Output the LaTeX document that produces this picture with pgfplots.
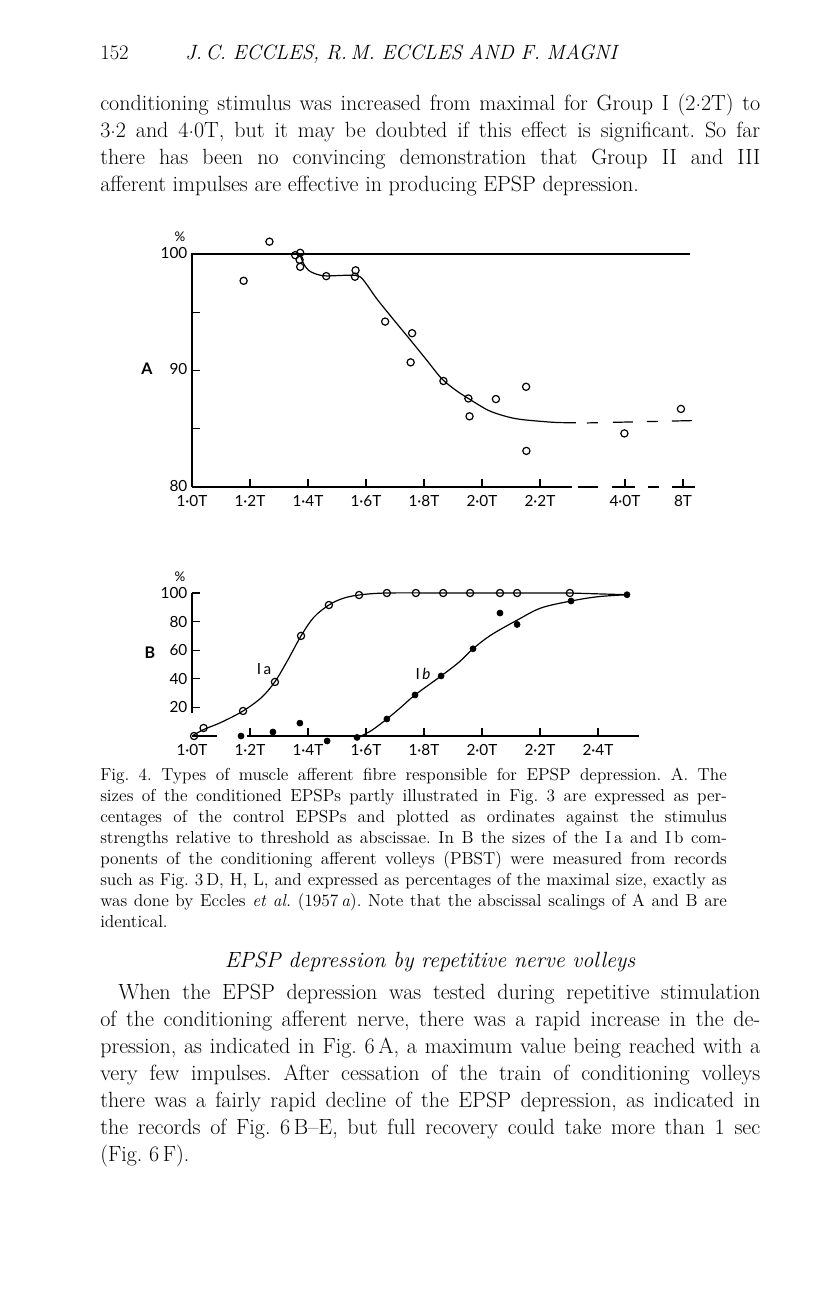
\documentclass[border=0pt]{standalone}
\usepackage{fontspec}
\newfontfamily\lab{Lato}
\usepackage{pgfplots}
\pgfplotsset{compat=1.18}
\frenchspacing

% one text line, spaces stretched to the given width
\newcommand{\jline}[4]{\node[anchor=base west,inner sep=0pt] at (#1,#2) {\makebox[#3][s]{#4}};}
\newcommand{\pline}[3]{\node[anchor=base west,inner sep=0pt] at (#1,#2) {#3};}
\newcommand{\cdt}{\raisebox{0.33ex}{.}}

\pgfplotsset{
  page axis/.style={
    scale only axis, width=380.625pt, xmin=1, xmax=2.75,
    clip=false, axis lines*=left, axis line style={draw=none},
    tick align=inside, major tick length=6pt,
    every tick/.style={black,line width=1pt},
    tick label style={font=\lab\fontsize{11.5}{12}\selectfont},
    xticklabel style={yshift=-2.5pt},
  },
  frame/.style={black,line width=1.2pt},
  curve/.style={black,line width=0.9pt},
  open/.style={only marks,mark=o,mark size=2.7pt,mark options={fill=white,line width=0.9pt}},
  full/.style={only marks,mark=*,mark size=2.3pt,mark options={fill=black}},
}

\begin{document}
\begin{tikzpicture}
\path[fill=white,use as bounding box] (0,0) rectangle (612pt,-972pt);

\begin{scope}[x=0.75pt,y=-0.75pt]
% running head
\node[anchor=base west,inner sep=0pt,font=\fontsize{15.5}{17}\selectfont] at (100,59) {152};
\node[anchor=base west,inner sep=0pt,font=\fontsize{15.5}{17}\selectfont\itshape] at (185,59)
  {\makebox[324pt][s]{J.\,C. ECCLES, R.\,M. ECCLES AND F. MAGNI}};

% text above the figure
\begin{scope}[font=\fontsize{16.5}{20}\selectfont]
\jline{100}{110}{495pt}{conditioning stimulus was increased from maximal for Group I (2\cdt2T) to}
\jline{100}{137}{495pt}{3\cdt2 and 4\cdt0T, but it may be doubted if this effect is significant. So far}
\jline{100}{164}{495pt}{there has been no convincing demonstration that Group II and III}
\pline{100}{191}{afferent impulses are effective in producing EPSP depression.}
\end{scope}

% panel letters and units
\node[font=\lab\bfseries\fontsize{12}{12}\selectfont] at (147,369) {A};
\node[font=\lab\bfseries\fontsize{12}{12}\selectfont] at (150,653) {B};
\node[font=\lab\fontsize{10}{10}\selectfont,inner sep=0pt] at (180,237) {\%};
\node[font=\lab\fontsize{10}{10}\selectfont,inner sep=0pt] at (180,577) {\%};
\node[font=\lab\fontsize{11.5}{12}\selectfont] at (264,669) {I\,a};
\node[font=\lab\fontsize{11.5}{12}\selectfont] at (423,674) {I\,\textit{b}};

% caption
\begin{scope}[font=\fontsize{13}{15}\selectfont]
\jline{100}{780}{470pt}{Fig. 4. Types of muscle afferent fibre responsible for EPSP depression. A. The}
\jline{100}{801}{470pt}{sizes of the conditioned EPSPs partly illustrated in Fig. 3 are expressed as per-}
\jline{100}{822}{470pt}{centages of the control EPSPs and plotted as ordinates against the stimulus}
\jline{100}{843}{470pt}{strengths relative to threshold as abscissae. In B the sizes of the I\,a and I\,b com-}
\jline{100}{864}{470pt}{ponents of the conditioning afferent volleys (PBST) were measured from records}
\jline{100}{885}{470pt}{such as Fig. 3\,D, H, L, and expressed as percentages of the maximal size, exactly as}
\jline{100}{906}{470pt}{was done by Eccles \textit{et al.} (1957\,\textit{a}). Note that the abscissal scalings of A and B are}
\pline{100}{927}{identical.}
\end{scope}

% section heading
\node[anchor=base,inner sep=0pt,font=\fontsize{16.5}{18}\selectfont\itshape] at (430,967)
  {EPSP depression by repetitive nerve volleys};

% text below the figure
\begin{scope}[font=\fontsize{16.5}{20}\selectfont]
\jline{118}{999}{481.5pt}{When the EPSP depression was tested during repetitive stimulation}
\jline{100}{1026}{495pt}{of the conditioning afferent nerve, there was a rapid increase in the de-}
\jline{100}{1053}{495pt}{pression, as indicated in Fig. 6\,A, a maximum value being reached with a}
\jline{100}{1080}{495pt}{very few impulses. After cessation of the train of conditioning volleys}
\jline{100}{1107}{495pt}{there was a fairly rapid decline of the EPSP depression, as indicated in}
\jline{100}{1134}{495pt}{the records of Fig. 6\,B--E, but full recovery could take more than 1 sec}
\pline{100}{1161}{(Fig. 6\,F).}
\end{scope}
\end{scope}

% ---------------- A ----------------
\begin{axis}[page axis,
  at={(144pt,-365.25pt)}, anchor=south west, height=174.75pt,
  ymin=80, ymax=100,
  xtick={1.0,1.2,1.4,1.6,1.8,2.0,2.2,2.493,2.693},
  xticklabels={1·0T,1·2T,1·4T,1·6T,1·8T,2·0T,2·2T,4·0T,8T},
  ytick={80,85,90,95,100}, yticklabels={80,,90,,100},
  yticklabel style={yshift=1pt},
]
\addplot[frame] coordinates {(1,80) (1,100) (2.717,100)};
\addplot[frame] coordinates {(1,80) (2.262,80)};
\addplot[frame,dash pattern=on 10.5pt off 4.5pt on 15pt off 10.5pt on 17.25pt off 9.75pt on 8.25pt off 9.75pt on 17.25pt]
  coordinates {(2.262,80) (2.734,80)};
\addplot[curve,smooth,tension=0.5] coordinates {
  (1.372,100.0) (1.384,99.2) (1.402,98.6) (1.430,98.26) (1.463,98.12)
  (1.545,98.18) (1.579,98.05) (1.602,97.4) (1.637,96.16) (1.694,94.4)
  (1.752,92.65) (1.809,90.9) (1.861,89.3) (1.910,88.3) (1.953,87.6)
  (2.020,86.6) (2.077,86.1) (2.134,85.8) (2.249,85.55) (2.324,85.52)};
\addplot[curve,dash pattern=on 8.25pt off 11.25pt on 15pt off 10.5pt on 8.25pt off 10.5pt on 15pt]
  coordinates {(2.362,85.5) (2.724,85.7)};
\addplot[open] coordinates {
  (1.178,97.7) (1.267,101.06) (1.356,99.9) (1.373,100.1) (1.371,99.5)
  (1.373,98.9) (1.463,98.1) (1.564,98.6) (1.562,98.05) (1.666,94.2)
  (1.759,93.2) (1.754,90.7) (1.867,89.1) (1.953,87.6) (1.957,86.07)
  (2.048,87.55) (2.152,88.6) (2.153,83.1) (2.491,84.6) (2.686,86.7)};
\end{axis}

% ---------------- B ----------------
\begin{axis}[page axis,
  at={(144pt,-552pt)}, anchor=south west, height=107.25pt,
  ymin=0, ymax=100,
  xtick={1.2,1.4,1.6,1.8,2.0,2.2,2.4},
  xticklabels={1·2T,1·4T,1·6T,1·8T,2·0T,2·2T,2·4T},
  extra x ticks={1.0}, extra x tick labels={1·0T},
  extra x tick style={major tick length=0pt},
  ytick={20,40,60,80,100}, yticklabels={20,40,60,80,100},
]
\addplot[frame] coordinates {(1,16) (1,100)};
\addplot[frame] coordinates {(1.19,0) (2.54,0)};
\addplot[frame] coordinates {(1.0,0) (1.086,0)};
% Ia
\addplot[curve,smooth,tension=0.55] coordinates {
  (1.0,0) (1.04,4.5) (1.10,9.5) (1.176,17.5) (1.24,27) (1.286,38)
  (1.33,53) (1.376,70) (1.42,83) (1.472,91.6) (1.52,96.2) (1.576,98.6)
  (1.672,100) (1.9,100) (2.1,100) (2.303,100)};
\addplot[curve] coordinates {(2.303,100) (2.5,98.8)};
% Ib
\addplot[curve,smooth,tension=0.55] coordinates {
  (1.583,0) (1.62,4) (1.672,11.9) (1.72,20) (1.769,28.7) (1.859,42)
  (1.92,51.5) (1.969,61) (2.031,70.6) (2.121,81) (2.203,89.5)
  (2.307,94.4) (2.399,97.4) (2.5,98.8)};
\addplot[full] coordinates {
  (1.169,0) (1.279,2.8) (1.372,9) (1.466,-3.5) (1.569,-1) (1.672,11.9)
  (1.769,28.7) (1.859,42) (1.969,61) (2.062,86) (2.121,78)
  (2.307,94.4) (2.5,98.8)};
\addplot[open] coordinates {
  (1.007,0) (1.04,5.6) (1.176,17.5) (1.286,37.8) (1.376,70) (1.472,91.6)
  (1.576,98.6) (1.672,100) (1.772,100) (1.866,100) (1.959,100)
  (2.062,100) (2.121,100) (2.303,100)};
\end{axis}
\end{tikzpicture}
\end{document}
